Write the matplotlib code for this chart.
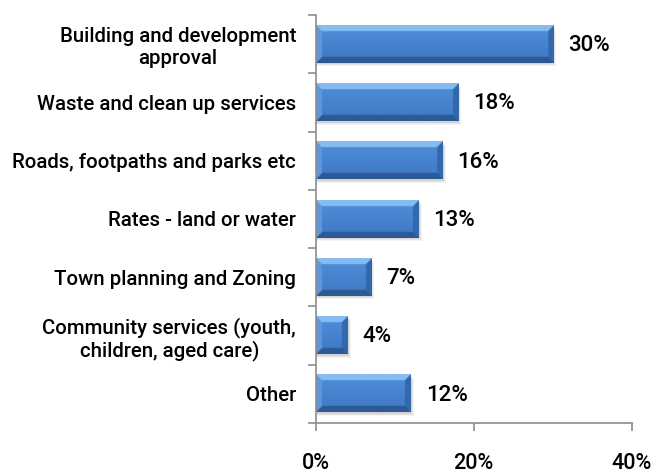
import matplotlib

matplotlib.use("Agg")
import matplotlib.pyplot as plt
import numpy as np
from matplotlib.patches import Rectangle
from matplotlib.ticker import FixedLocator, FuncFormatter

CATEGORIES = [
    "Building and development\napproval",
    "Waste and clean up services",
    "Roads, footpaths and parks etc",
    "Rates - land or water",
    "Town planning and Zoning",
    "Community services (youth,\nchildren, aged care)",
    "Other",
]
VALUES = [30, 18, 16, 13, 7, 4, 12]
XTICKS = [0, 20, 40]

FONT = "Roboto"
WEIGHT = "medium"
BAR_H = 0.64
BEVEL_PX = 6.0
XMAX = 40


def bevel_image(w_px, h_px, bevel=BEVEL_PX, scale=4):
    """RGB image of a bevelled bar, w_px x h_px on screen."""
    nx = max(int(w_px * scale), 2)
    ny = max(int(h_px * scale), 2)
    xs = (np.arange(nx) + 0.5) / scale
    ys = (np.arange(ny) + 0.5) / scale
    X, Y = np.meshgrid(xs, ys)
    dists = np.stack([Y, h_px - Y, X, w_px - X])
    edge = dists.argmin(0)
    dmin = dists.min(0)

    top = np.array([0x86, 0xBC, 0xF2]) / 255
    bot = np.array([0x2C, 0x5A, 0x96]) / 255
    left = np.array([0x5C, 0x98, 0xDE]) / 255
    right = np.array([0x34, 0x68, 0xAE]) / 255
    flat_hi = np.array([0x50, 0x8F, 0xDA]) / 255
    flat_lo = np.array([0x3D, 0x77, 0xC2]) / 255

    t = (Y / h_px)[..., None]
    img = flat_hi * (1 - t) + flat_lo * t
    in_bevel = dmin < bevel
    for k, col in enumerate([top, bot, left, right]):
        img[in_bevel & (edge == k)] = col
    return np.clip(img, 0, 1)


fig = plt.figure(figsize=(6.56, 4.74), dpi=100)
ax = fig.add_axes([0.481, 0.108, 0.482, 0.860])
n = len(CATEGORIES)
ypos = np.arange(n)[::-1]

ax.set_xlim(0, XMAX)
ax.set_ylim(-0.5, n - 0.5)

# pixel size of one data unit, used for the bevel geometry
bbox = ax.get_window_extent()
px_per_x = bbox.width / XMAX
px_per_y = bbox.height / n

for y, v in zip(ypos, VALUES):
    y0, y1 = y - BAR_H / 2, y + BAR_H / 2
    # soft drop shadow
    for k, a in enumerate([0.10, 0.08, 0.06]):
        off_x = (k + 1.5) / px_per_x
        off_y = (k + 1.5) / px_per_y
        ax.add_patch(Rectangle((0, y0 - off_y), v + off_x, BAR_H,
                               facecolor="#404040", edgecolor="none",
                               alpha=a, zorder=1))
    img = bevel_image(v * px_per_x, BAR_H * px_per_y)
    ax.imshow(img, extent=(0, v, y0, y1), origin="upper", aspect="auto",
              interpolation="bilinear", zorder=2)
    ax.annotate(f"{v}%", xy=(v, y), xytext=(11, -1), textcoords="offset points",
                ha="left", va="center", fontsize=16, family=FONT,
                weight=WEIGHT, color="black")

ax.set_xlim(0, XMAX)
ax.set_ylim(-0.5, n - 0.5)
ax.set_aspect("auto")

for side in ["top", "right"]:
    ax.spines[side].set_visible(False)
for side in ["left", "bottom"]:
    ax.spines[side].set_color("#8c8c8c")
    ax.spines[side].set_linewidth(1.2)

ax.xaxis.set_major_locator(FixedLocator(XTICKS))
ax.xaxis.set_major_formatter(FuncFormatter(lambda x, _: f"{x:.0f}%"))
ax.tick_params(axis="x", direction="out", length=6, width=1.2, color="#8c8c8c",
               pad=16, labelsize=15.5)

# category boundaries carry the ticks, labels sit at bar centres
ax.yaxis.set_major_locator(FixedLocator(np.arange(-0.5, n, 1.0)))
ax.yaxis.set_major_formatter(FuncFormatter(lambda y, _: ""))
ax.yaxis.set_minor_locator(FixedLocator(ypos))
ax.set_yticklabels(CATEGORIES, minor=True)
ax.tick_params(axis="y", which="major", direction="out", length=6, width=1.2,
               color="#8c8c8c")
ax.tick_params(axis="y", which="minor", length=0, pad=14, labelsize=14.7)

for lab in ax.get_xticklabels() + ax.get_yticklabels(minor=True):
    lab.set_family(FONT)
    lab.set_weight(WEIGHT)
for lab in ax.get_yticklabels(minor=True):
    lab.set_multialignment("center")
    lab.set_linespacing(1.15)

fig.savefig("out.png", dpi=100)
